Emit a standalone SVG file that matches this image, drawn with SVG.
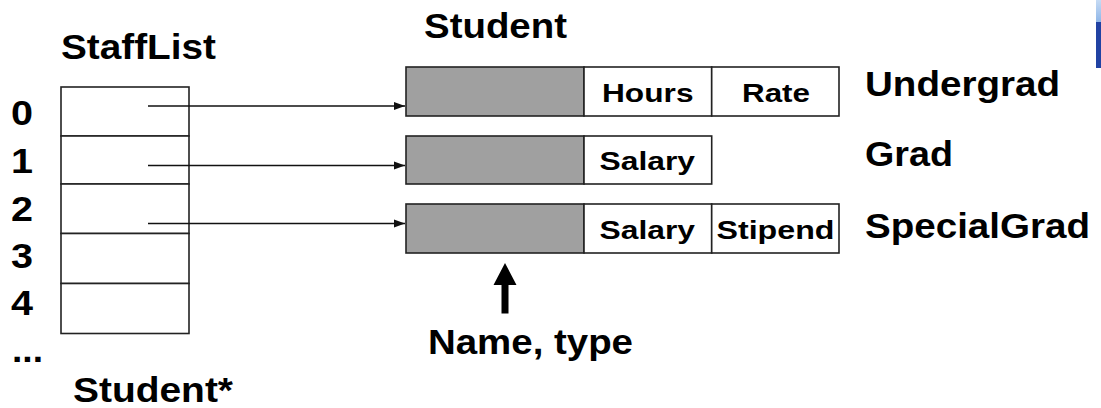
<svg xmlns="http://www.w3.org/2000/svg" width="1101" height="408" viewBox="0 0 1101 408">
  <style>
    .t { font-family: "Liberation Sans", Arial, sans-serif; font-weight: bold; fill: #000; }
    .big { font-size: 35px; }
    .cell { font-size: 26px; }
    .box { fill: #fff; stroke: #222; stroke-width: 1.6; }
    .hdr { fill: #a0a0a0; stroke: #222; stroke-width: 1.6; }
    .conn { stroke: #111; stroke-width: 1.5; fill: none; }
  </style>
  <defs>
    <marker id="ah" markerWidth="12" markerHeight="10" refX="11" refY="5" orient="auto" markerUnits="userSpaceOnUse">
      <path d="M0,1 L11,5 L0,9 Z" fill="#111"/>
    </marker>
    <linearGradient id="lb" x1="0" y1="0" x2="0" y2="1">
      <stop offset="0" stop-color="#c6dbf4"/>
      <stop offset="1" stop-color="#8fb6e8"/>
    </linearGradient>
  </defs>
  <rect width="1101" height="408" fill="#fff"/>

  <!-- partial slide decoration at right edge -->
  <rect x="1096" y="0" width="5" height="22" fill="url(#lb)"/>
  <rect x="1096" y="22" width="5" height="46" fill="#2142a3"/>

  <g id="staff-list">
    <text class="t big" x="61" y="58.5" textLength="155" lengthAdjust="spacingAndGlyphs">StaffList</text>
    <rect class="box" x="61" y="87" width="128" height="49"/>
    <rect class="box" x="61" y="136" width="128" height="48"/>
    <rect class="box" x="61" y="184" width="128" height="49.5"/>
    <rect class="box" x="61" y="233.5" width="128" height="50"/>
    <rect class="box" x="61" y="283.5" width="128" height="50"/>
    <text class="t big" x="11" y="125" textLength="22" lengthAdjust="spacingAndGlyphs">0</text>
    <text class="t big" x="11" y="173" textLength="22" lengthAdjust="spacingAndGlyphs">1</text>
    <text class="t big" x="11" y="220.5" textLength="22" lengthAdjust="spacingAndGlyphs">2</text>
    <text class="t big" x="11" y="268" textLength="22" lengthAdjust="spacingAndGlyphs">3</text>
    <text class="t big" x="11" y="315" textLength="22" lengthAdjust="spacingAndGlyphs">4</text>
    <text class="t big" x="12" y="362" textLength="31" lengthAdjust="spacingAndGlyphs">...</text>
    <text class="t big" x="73" y="401.5" textLength="160" lengthAdjust="spacingAndGlyphs">Student*</text>
  </g>

  <g id="student-title">
    <text class="t big" x="424" y="38" textLength="143" lengthAdjust="spacingAndGlyphs">Student</text>
  </g>

  <g id="undergrad">
    <rect class="hdr" x="406" y="67" width="178" height="49"/>
    <rect class="box" x="584" y="67" width="127.7" height="49"/>
    <rect class="box" x="711.7" y="67" width="127.3" height="49"/>
    <text class="t cell" x="602" y="101.5" textLength="91.5" lengthAdjust="spacingAndGlyphs">Hours</text>
    <text class="t cell" x="742" y="101.5" textLength="68" lengthAdjust="spacingAndGlyphs">Rate</text>
    <text class="t big" x="865" y="96" textLength="195" lengthAdjust="spacingAndGlyphs">Undergrad</text>
  </g>

  <g id="grad">
    <rect class="hdr" x="406" y="136" width="178" height="48"/>
    <rect class="box" x="584" y="136" width="127.7" height="48"/>
    <text class="t cell" x="599.5" y="170" textLength="95.5" lengthAdjust="spacingAndGlyphs">Salary</text>
    <text class="t big" x="865" y="166" textLength="88" lengthAdjust="spacingAndGlyphs">Grad</text>
  </g>

  <g id="special-grad">
    <rect class="hdr" x="406" y="204" width="178" height="49"/>
    <rect class="box" x="584" y="204" width="127.7" height="49"/>
    <rect class="box" x="711.7" y="204" width="127.3" height="49"/>
    <text class="t cell" x="599.5" y="239" textLength="95.5" lengthAdjust="spacingAndGlyphs">Salary</text>
    <text class="t cell" x="716.5" y="239" textLength="118" lengthAdjust="spacingAndGlyphs">Stipend</text>
    <text class="t big" x="865" y="238" textLength="225" lengthAdjust="spacingAndGlyphs">SpecialGrad</text>
  </g>

  <g id="name-type">
    <path d="M505,263 L516.5,285 L508.5,285 L508.5,313.5 L501.5,313.5 L501.5,285 L493.5,285 Z" fill="#000"/>
    <text class="t big" x="428" y="354" textLength="205" lengthAdjust="spacingAndGlyphs">Name, type</text>
  </g>

  <g id="connectors">
    <line class="conn" x1="148" y1="106" x2="405" y2="106" marker-end="url(#ah)"/>
    <line class="conn" x1="148" y1="165.5" x2="405" y2="165.5" marker-end="url(#ah)"/>
    <line class="conn" x1="148" y1="223.5" x2="405" y2="223.5" marker-end="url(#ah)"/>
  </g>
</svg>
